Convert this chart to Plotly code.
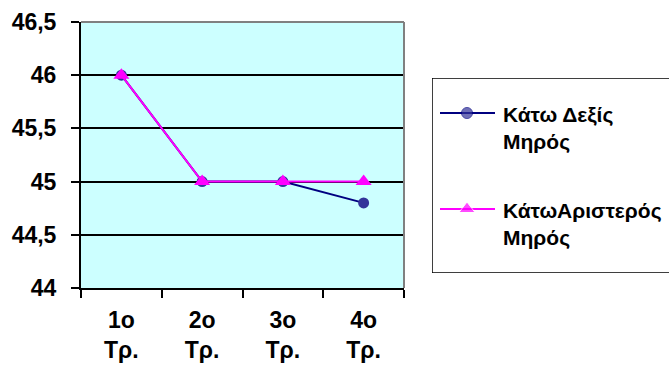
import plotly.graph_objects as go

# Quarterly measurements for the two series
periods = ["1o Τρ.", "2o Τρ.", "3o Τρ.", "4o Τρ."]
period_labels = ["1o<br>Τρ.", "2o<br>Τρ.", "3o<br>Τρ.", "4o<br>Τρ."]
right_thigh = [46.0, 45.0, 45.0, 44.8]
left_thigh = [46.0, 45.0, 45.0, 45.0]
series_names = ["Κάτω Δεξίς<br>Μηρός", "ΚάτωΑριστερός<br>Μηρός"]

y_ticks = [44, 44.5, 45, 45.5, 46, 46.5]
y_tick_text = ["44", "44,5", "45", "45,5", "46", "46,5"]

FONT = "Liberation Sans, Arial, sans-serif"
W, H = 669, 372
L, R, T, B = 81, 0, 22, 84
plot_w = W - L - R
plot_h = H - T - B
x_dom_end = (404 - L) / plot_w

navy = "#000080"
navy_marker = "#333399"
magenta = "#FF00FF"


def bold(s):
    return "<b>%s</b>" % s


fig = go.Figure()

fig.add_trace(go.Scatter(
    x=periods, y=right_thigh, name=series_names[0], mode="lines+markers",
    line=dict(color=navy, width=2),
    marker=dict(symbol="circle", size=11, color=navy_marker),
    showlegend=False, cliponaxis=False,
))
fig.add_trace(go.Scatter(
    x=periods, y=left_thigh, name=series_names[1], mode="lines+markers",
    line=dict(color=magenta, width=2),
    marker=dict(symbol="triangle-up", size=14, color=magenta),
    showlegend=False, cliponaxis=False,
))

# Legend drawn in its own pixel-scaled overlay axes
legend_rows = [(113, navy, "circle", navy_marker, 11),
               (209, magenta, "triangle-up", magenta, 14)]
for (ly, lc, sym, mc, ms) in legend_rows:
    fig.add_trace(go.Scatter(
        x=[440, 467, 495], y=[ly, ly, ly], xaxis="x2", yaxis="y2",
        mode="lines+markers", line=dict(color=lc, width=2),
        marker=dict(symbol=sym, size=[0, ms, 0], color=mc),
        showlegend=False, hoverinfo="skip",
    ))

annotations = []
for (ly, *_), name in zip(legend_rows, series_names):
    annotations.append(dict(
        x=501, y=ly - 12, xref="x2", yref="y2", text=bold(name),
        showarrow=False, xanchor="left", yanchor="top", align="left",
        font=dict(family=FONT, size=21, color="black"),
    ))

shapes = [
    # gray top and right edges of the plot area
    dict(type="line", xref="paper", yref="paper", x0=0, x1=x_dom_end, y0=1, y1=1,
         line=dict(color="#808080", width=2), layer="above"),
    dict(type="line", xref="paper", yref="paper", x0=x_dom_end, x1=x_dom_end, y0=0, y1=1,
         line=dict(color="#808080", width=2), layer="above"),
    # legend frame, running off the right edge of the page
    dict(type="rect", xref="x2", yref="y2", x0=432, x1=675, y0=78, y1=273,
         line=dict(color="black", width=1.5), fillcolor="white", layer="below"),
]

fig.update_layout(
    width=W, height=H,
    margin=dict(l=L, r=R, t=T, b=B, pad=0, autoexpand=False),
    paper_bgcolor="white",
    plot_bgcolor="#CCFFFF",
    font=dict(family=FONT, color="black"),
    xaxis=dict(
        domain=[0, x_dom_end], type="category", range=[-0.5, 3.5], autorange=False,
        tickmode="array", tickvals=periods, ticktext=[bold(t) for t in period_labels],
        tickson="boundaries", ticks="outside", ticklen=8, tickwidth=2, tickcolor="black",
        showline=True, linecolor="black", linewidth=2,
        showgrid=False, zeroline=False,
        tickfont=dict(family=FONT, size=23, color="black"),
        ticklabelstandoff=10,
        automargin=False, fixedrange=True,
    ),
    yaxis=dict(
        range=[44, 46.5], autorange=False, tickmode="array", tickvals=y_ticks,
        ticktext=[bold(t) for t in y_tick_text],
        ticks="outside", ticklen=8, tickwidth=2, tickcolor="black",
        showline=True, linecolor="black", linewidth=2,
        showgrid=True, gridcolor="black", gridwidth=2,
        zeroline=False,
        tickfont=dict(family=FONT, size=23, color="black"),
        ticklabelstandoff=10,
        automargin=False, fixedrange=True,
    ),
    xaxis2=dict(domain=[(432 - L) / plot_w, 1.0], range=[432, 669], anchor="y2",
                visible=False, fixedrange=True),
    yaxis2=dict(domain=[(288 - 273) / plot_h, (288 - 78) / plot_h],
                range=[273, 78], anchor="x2", visible=False, fixedrange=True),
    shapes=shapes,
    annotations=annotations,
)

fig.write_html("out.html")
